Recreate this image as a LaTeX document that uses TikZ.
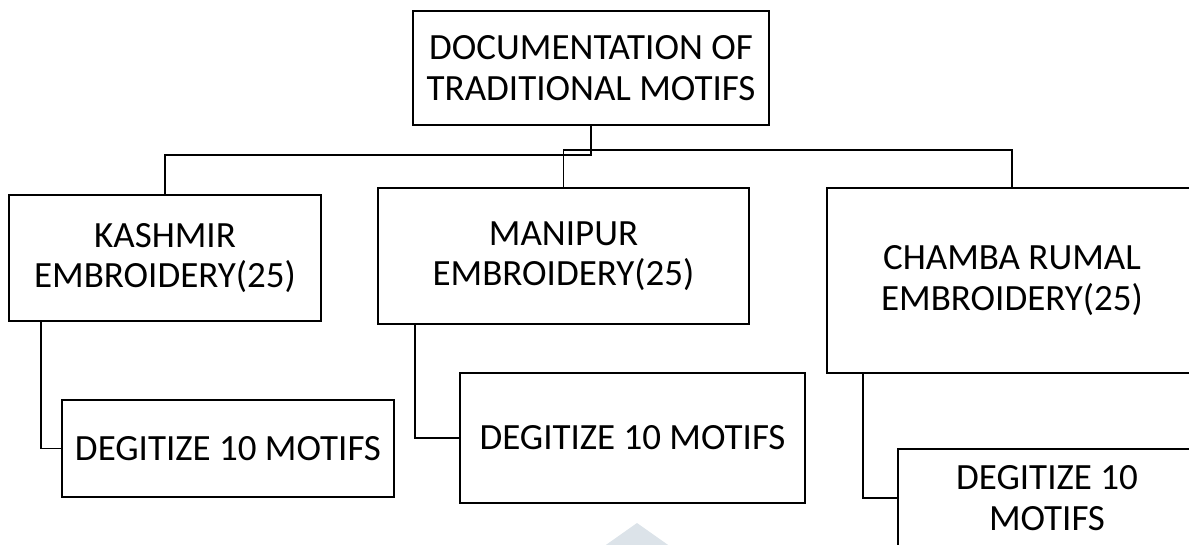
\documentclass[tikz,border=0pt]{standalone}
\usepackage{fontspec}
\setmainfont{Carlito}
\usetikzlibrary{calc}
\definecolor{wmark}{RGB}{220,227,233}
\begin{document}
\begin{tikzpicture}[x=1pt,y=-1pt,
  box/.style={draw=black,line width=1.5pt,rectangle,inner sep=0pt,outer sep=0pt,
    align=center,font=\fontsize{37pt}{40.6pt}\selectfont},
  link/.style={draw=black,line width=1.5pt}]
\useasboundingbox (0,0) rectangle (1189,544);
\fill[wmark] (637,523) -- (603,547) -- (671,547) -- cycle;
\node[box,minimum width=356pt,minimum height=114pt] (top) at (591,68) {DOCUMENTATION OF\\TRADITIONAL MOTIFS};
\node[box,minimum width=312pt,minimum height=126pt] (kash) at (165,258) {KASHMIR\\EMBROIDERY(25)};
\node[box,minimum width=371pt,minimum height=136pt] (mani) at (563.5,256) {MANIPUR\\EMBROIDERY(25)};
\node[box,minimum width=370pt,minimum height=185pt] (chamba) at (1012,280.5) {CHAMBA RUMAL\\EMBROIDERY(25)};
\node[box,minimum width=332pt,minimum height=97pt] (d1) at (228,448.5) {DEGITIZE 10 MOTIFS};
\node[box,minimum width=345pt,minimum height=130pt] (d2) at (632.5,438) {DEGITIZE 10 MOTIFS};
\node[box,minimum width=298pt,minimum height=98pt] (d3) at (1047,498) {DEGITIZE 10\\MOTIFS};
\draw[link] (top.south) -- ++(0,30) -| (kash.north);
\draw[link] (mani.north) -- ++(0,-38) -| (chamba.north);
\draw[link] ($(kash.south west)+(32,0)$) |- (d1.west);
\draw[link] ($(mani.south west)+(37,0)$) |- (d2.west);
\draw[link] ($(chamba.south west)+(36,0)$) |- (d3.west);
\end{tikzpicture}
\end{document}
